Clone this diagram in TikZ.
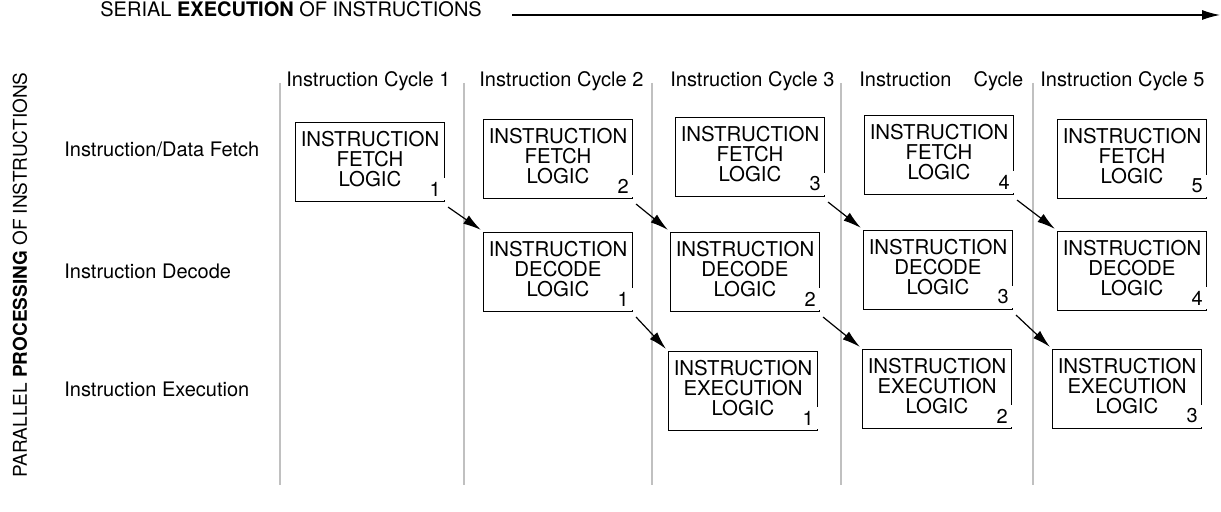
\documentclass[tikz,border=0pt]{standalone}
\usepackage{fontspec}
\setmainfont{TeX Gyre Heros}
\usepackage{tikz}
\usetikzlibrary{arrows.meta, positioning, calc}
\definecolor{gridgray}{RGB}{192,192,192}
\definecolor{mydark}{RGB}{0,0,0}
\tikzset{
  logicbox/.style={rectangle, draw=mydark, fill=white,
    minimum width=74.5pt, minimum height=39.5pt, inner sep=0pt,
    align=center, font=\fontsize{10.2}{10}\selectfont,
    text depth=3pt, line width=0.6pt},
  stagenum/.style={fill=white, anchor=south east, inner xsep=2pt,
    inner ysep=2pt, font=\fontsize{10}{10}\selectfont},
  cyclelabel/.style={anchor=base west, inner sep=0pt,
    font=\fontsize{10}{12}\selectfont},
  rowlabel/.style={anchor=base west, inner sep=0pt,
    font=\fontsize{10}{12}\selectfont},
  cycleline/.style={draw=gridgray, line width=0.75pt},
  arrow/.style={-{Latex[length=9pt, width=5pt]}, line width=0.6pt, color=mydark}
}

\begin{document}
\begin{tikzpicture}[x=0.5pt, y=-0.5pt]
  \useasboundingbox (0,0) rectangle (1221,512);

  % Serial axis
  \node[anchor=base west, inner sep=0pt, font=\fontsize{10}{12}\selectfont] (serial) at (100,17)
    {SERIAL \textbf{EXECUTION} OF INSTRUCTIONS};
  \coordinate (serialstart) at (512,15);
  \coordinate (serialend) at (1220,15);
  \draw[arrow] (serialstart) -- (serialend);

  % Parallel axis
  \node[rotate=90, inner sep=0pt, font=\fontsize{9.5}{12}\selectfont] (parallel) at (20,275)
    {PARALLEL \textbf{PROCESSING} OF INSTRUCTIONS};

  % Cycle separators
  \draw[cycleline] (280,83) -- (280,485);
  \draw[cycleline] (464,83) -- (464,485);
  \draw[cycleline] (652,83) -- (652,485);
  \draw[cycleline] (841,83) -- (841,485);
  \draw[cycleline] (1033,83) -- (1033,485);

  % Cycle labels
  \node[cyclelabel] (cyc1) at (286,87) {Instruction Cycle 1};
  \node[cyclelabel] (cyc2) at (479,87) {Instruction Cycle 2};
  \node[cyclelabel] (cyc3) at (670,87) {Instruction Cycle 3};
  \node[cyclelabel] (cyc4) at (859,87) {Instruction\hspace{11pt}Cycle};
  \node[cyclelabel] (cyc5) at (1040,87) {Instruction Cycle 5};

  % Row labels
  \node[rowlabel] (rowfetch) at (64,157) {Instruction/Data Fetch};
  \node[rowlabel] (rowdecode) at (64,279) {Instruction Decode};
  \node[rowlabel] (rowexec) at (64,397) {Instruction Execution};

  % Fetch stage
  \node[logicbox] (f1) at (370,162) {INSTRUCTION\\FETCH\\LOGIC};
  \node[logicbox] (f2) at (558,159) {INSTRUCTION\\FETCH\\LOGIC};
  \node[logicbox] (f3) at (750,157) {INSTRUCTION\\FETCH\\LOGIC};
  \node[logicbox] (f4) at (939,155) {INSTRUCTION\\FETCH\\LOGIC};
  \node[logicbox] (f5) at (1132,159) {INSTRUCTION\\FETCH\\LOGIC};
  \node[stagenum] (f1n) at ([yshift=0.7pt]f1.south east) {1};
  \node[stagenum] (f2n) at ([yshift=0.7pt]f2.south east) {2};
  \node[stagenum] (f3n) at ([yshift=0.7pt]f3.south east) {3};
  \node[stagenum] (f4n) at ([yshift=0.7pt]f4.south east) {4};
  \node[stagenum] (f5n) at ([yshift=0.7pt]f5.south east) {5};

  % Decode stage
  \node[logicbox] (d1) at (558,272) {INSTRUCTION\\DECODE\\LOGIC};
  \node[logicbox] (d2) at (745,272) {INSTRUCTION\\DECODE\\LOGIC};
  \node[logicbox] (d3) at (938,270) {INSTRUCTION\\DECODE\\LOGIC};
  \node[logicbox] (d4) at (1132,271) {INSTRUCTION\\DECODE\\LOGIC};
  \node[stagenum] (d1n) at ([yshift=0.7pt]d1.south east) {1};
  \node[stagenum] (d2n) at ([yshift=0.7pt]d2.south east) {2};
  \node[stagenum] (d3n) at ([yshift=0.7pt]d3.south east) {3};
  \node[stagenum] (d4n) at ([yshift=0.7pt]d4.south east) {4};

  % Execution stage
  \node[logicbox] (e1) at (743,391) {INSTRUCTION\\EXECUTION\\LOGIC};
  \node[logicbox] (e2) at (937,389) {INSTRUCTION\\EXECUTION\\LOGIC};
  \node[logicbox] (e3) at (1127,389) {INSTRUCTION\\EXECUTION\\LOGIC};
  \node[stagenum] (e1n) at ([yshift=0.7pt]e1.south east) {1};
  \node[stagenum] (e2n) at ([yshift=0.7pt]e2.south east) {2};
  \node[stagenum] (e3n) at ([yshift=0.7pt]e3.south east) {3};

  % Hand-over arrows
  \draw[arrow] ([shift={(3,5)}]f1.south east) -- ([shift={(-2,-2)}]d1.north west);
  \draw[arrow] ([shift={(3,5)}]f2.south east) -- ([shift={(-2,-2)}]d2.north west);
  \draw[arrow] ([shift={(3,5)}]f3.south east) -- ([shift={(-2,-2)}]d3.north west);
  \draw[arrow] ([shift={(3,5)}]f4.south east) -- ([shift={(-2,-2)}]d4.north west);
  \draw[arrow] ([shift={(3,5)}]d1.south east) -- ([shift={(-2,-2)}]e1.north west);
  \draw[arrow] ([shift={(3,5)}]d2.south east) -- ([shift={(-2,-2)}]e2.north west);
  \draw[arrow] ([shift={(3,5)}]d3.south east) -- ([shift={(-2,-2)}]e3.north west);
\end{tikzpicture}
\end{document}
